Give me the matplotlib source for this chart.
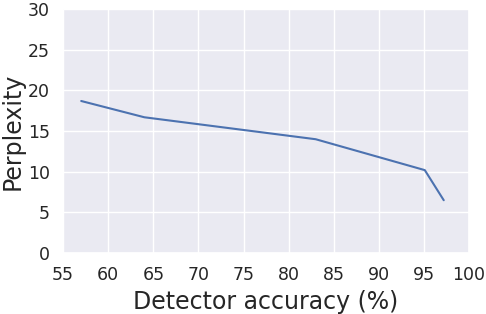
import matplotlib
matplotlib.use("Agg")
import matplotlib.pyplot as plt
import seaborn as sns

# detector accuracy (%) vs perplexity
accuracy = [57.0, 64.0, 83.0, 95.1, 97.2]
perplexity = [18.7, 16.7, 14.0, 10.2, 6.5]

sns.set_theme(style="darkgrid")
plt.rcParams['font.family'] = ['DejaVu Sans']

fig, ax = plt.subplots(figsize=(4.86, 3.14), dpi=100)
ax.plot(accuracy, perplexity, color="#4c72b0", linewidth=1.5)

ax.set_xlim(55, 100)
ax.set_ylim(0, 30)
ax.set_xticks(range(55, 101, 5))
ax.set_yticks(range(0, 31, 5))
ax.tick_params(labelsize=12.5)
ax.set_xlabel("Detector accuracy (%)", fontsize=17)
ax.set_ylabel("Perplexity", fontsize=17, labelpad=2.5)

fig.subplots_adjust(left=0.13, right=0.965, top=0.971, bottom=0.194)
fig.savefig("out.png", dpi=100)
